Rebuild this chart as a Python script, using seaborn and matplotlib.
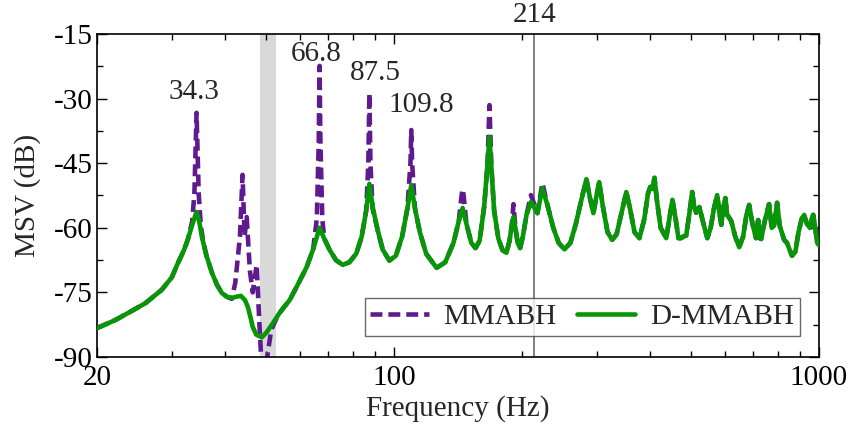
import numpy as np
import pandas as pd
import matplotlib
matplotlib.use("Agg")
import matplotlib.pyplot as plt
from matplotlib.ticker import FixedLocator, NullFormatter, MultipleLocator
import seaborn as sns

# D-MMABH curve (Hz, dB)
freq_d = [20, 22, 23.65, 26, 28.4, 30, 31.0, 32.0, 32.7, 33.5, 34.3, 34.8, 35.3, 36.2,
          37.3, 38.3, 39.3, 40.4, 41.5, 42.6, 43.6, 44.6, 45.3, 46.0, 46.5, 47.4, 48.3,
          48.9, 50.2, 51.9, 54.0, 56.8, 59.5, 62.3, 64.5, 66.8, 68.5, 70.6, 73.0, 75.7,
          78.5, 81.5, 83.9, 86.0, 87.5, 89.0, 91.5, 94.0, 97.5, 101, 104.5, 107.5, 109.8,
          112, 115, 119, 125.9, 132, 138, 142, 145, 148, 152, 155.5, 159, 163, 166, 167.7,
          169.5, 172, 176, 180, 183.9, 187, 189.5, 191, 193, 195.5, 198, 201, 205, 210,
          217.5, 223.4, 230, 237, 244, 251.8, 260, 268, 276, 283.6, 289, 294.5, 299, 304,
          310, 318, 326, 334, 343, 352, 360, 368, 378, 388, 396, 401, 406, 410, 416, 424,
          437, 446, 452, 460, 467, 474, 480, 487, 495, 503, 508, 514, 523, 533, 546, 556,
          566, 576, 582, 589, 596, 602, 608, 615, 622, 635, 649, 663, 675, 685, 697, 711,
          719, 725, 731, 745, 763, 774, 784, 797, 808, 828, 841, 852, 864, 880, 895, 910,
          923, 936, 953, 962, 969, 980, 990, 1000]
msv_d = [-83.3, -81.5, -79.8, -77.5, -74.4, -71.5, -68.2, -65.3, -62.8, -59.3, -56.3, -58.5,
         -62.1, -66.5, -70.5, -73.2, -75.1, -76.0, -76.3, -76.0, -75.8, -76.8, -78.4, -81.0,
         -83.0, -84.8, -85.2, -85.4, -84.2, -82.1, -79.5, -76.8, -73.0, -69.1, -65.0, -60.0,
         -62.5, -65.2, -67.5, -68.6, -68.0, -66.0, -62.1, -56.0, -49.8, -55.0, -60.5, -65.0,
         -67.6, -66.5, -62.0, -55.5, -50.1, -55.5, -61.0, -66.0, -69.3, -68.0, -63.5, -58.5,
         -55.4, -59.0, -63.5, -64.7, -63.0, -55.0, -45.0, -38.9, -46.0, -56.0, -62.5, -65.2,
         -65.8, -63.0, -59.0, -57.5, -60.0, -63.6, -64.7, -62.0, -57.0, -54.0, -56.6, -50.8,
         -55.0, -60.0, -63.5, -65.0, -63.5, -59.0, -53.5, -48.7, -53.0, -56.6, -53.0, -49.4,
         -55.0, -61.0, -62.8, -61.5, -56.5, -51.7, -56.0, -61.0, -62.4, -58.0, -52.0, -50.5,
         -51.0, -48.4, -54.0, -60.0, -62.4, -57.0, -53.5, -58.0, -62.4, -62.4, -62.0, -61.8,
         -57.0, -51.7, -54.8, -56.5, -55.2, -58.5, -62.4, -60.0, -55.5, -52.4, -56.0, -59.3,
         -55.0, -53.1, -57.0, -57.7, -58.5, -62.0, -64.5, -62.0, -57.0, -54.7, -59.0, -62.4,
         -58.2, -62.4, -62.6, -58.5, -54.5, -60.0, -59.5, -54.2, -59.5, -62.8, -63.5, -65.0,
         -66.5, -65.5, -61.0, -58.0, -57.0, -59.0, -60.0, -58.0, -57.0, -60.0, -63.5, -64.0]

# MMABH below 230 Hz (above it the two curves coincide)
freq_m_low = [20, 22, 23.65, 26, 28.4, 30, 31.0, 32.0, 32.7, 33.5, 33.9, 34.3, 34.7, 35.1,
              35.6, 36.2, 37.3, 38.3, 39.3, 40.4, 41.5, 42.3, 43.4, 44.0, 44.5, 45.0, 45.8,
              46.5, 47.5, 48.2, 48.7, 49.5, 50.3, 51.4, 53.2, 55.0, 56.8, 59.5, 62.3, 64.5,
              65.8, 66.5, 66.8, 67.1, 67.8, 68.5, 70.6, 73.0, 75.7, 78.5, 81.5, 83.9, 86.0,
              87.0, 87.5, 88.0, 89.0, 91.5, 94.0, 97.5, 101, 104.5, 107.5, 109.3, 109.8,
              110.3, 112, 115, 119, 125.9, 132, 138, 142, 144.2, 145, 145.8, 148, 152, 155.5,
              159, 163, 166, 167.7, 169.5, 172, 176, 180, 183.9, 187, 189.5, 191, 193, 195.5,
              198, 201, 205, 210, 217.5, 223.4, 230]
msv_m_low = [-83.3, -81.5, -79.8, -77.5, -74.4, -71.5, -68.2, -65.3, -62.8, -58.5, -52.0,
             -33.3, -52.0, -59.5, -63.5, -66.5, -70.5, -73.2, -75.1, -76.0, -76.5, -72.8,
             -62.0, -47.7, -62.0, -57.5, -70.0, -75.0, -68.6, -82.0, -90.5, -95.0, -90.0,
             -83.7, -80.5, -78.5, -76.8, -73.0, -69.1, -65.0, -58.0, -40.0, -22.4, -40.0,
             -58.0, -62.5, -65.2, -67.5, -68.6, -68.0, -66.0, -62.1, -56.0, -45.0, -28.7,
             -45.0, -55.5, -60.5, -65.0, -67.6, -66.5, -62.0, -55.5, -45.0, -37.3, -45.0,
             -55.5, -61.0, -66.0, -69.3, -68.0, -63.5, -58.5, -52.5, -51.0, -52.5, -59.0,
             -63.5, -64.7, -63.0, -55.0, -45.0, -31.5, -46.0, -56.0, -62.5, -65.2, -65.8,
             -63.0, -59.0, -54.5, -60.0, -63.6, -64.7, -62.0, -57.0, -52.4, -56.6, -49.6,
             -55.0]

peak_freqs = [34.3, 66.8, 87.5, 109.8]
peak_text_x = [33.8, 65.7, 90.2, 115.7]
peak_text_y = [-28.5, -19.6, -24.1, -31.5]
band = (48.4, 52.7)
marker_freq = 214

freq_m = freq_m_low + [f for f in freq_d if f > 230]
msv_m = msv_m_low + [v for f, v in zip(freq_d, msv_d) if f > 230]

df_m = pd.DataFrame({"f": freq_m, "msv": msv_m})
df_d = pd.DataFrame({"f": freq_d, "msv": msv_d})

sns.set_style("ticks")
plt.rcParams["font.family"] = ["Liberation Serif", "DejaVu Serif"]
plt.rcParams["axes.unicode_minus"] = False

purple = "#5f1b8d"
green = "#069606"
fs = 21

fig = plt.figure(figsize=(8.52, 4.30), dpi=100)
ax = fig.add_axes([97 / 852, 1 - 357 / 430, 722 / 852, 323 / 430])

ax.axvspan(band[0], band[1], color="#d9d9d9", zorder=0, lw=0)
ax.axvline(marker_freq, color="#777777", lw=1.3, zorder=1)

sns.lineplot(data=df_m, x="f", y="msv", ax=ax, color=purple, lw=3.3,
             linestyle="--", estimator=None, sort=False,
             label="MMABH", zorder=2)
sns.lineplot(data=df_d, x="f", y="msv", ax=ax, color=green, lw=3.3,
             estimator=None, sort=False, label="D-MMABH", zorder=3)
ax.lines[-2].set_dashes((2.6, 1.3))

ax.set_xscale("log")
ax.set_xlim(20, 1000)
ax.set_ylim(-90, -15)
ax.xaxis.set_major_locator(FixedLocator([20, 100, 1000]))
ax.set_xticklabels(["20", "100", "1000"])
ax.xaxis.set_minor_locator(FixedLocator([30, 40, 50, 60, 70, 80, 90,
                                         200, 300, 400, 500, 600, 700, 800, 900]))
ax.xaxis.set_minor_formatter(NullFormatter())
ax.yaxis.set_major_locator(MultipleLocator(15))
ax.yaxis.set_minor_locator(MultipleLocator(7.5))

ax.tick_params(which="both", direction="in", top=True, right=True, labelsize=fs,
               width=1.0, colors="black")
ax.tick_params(which="major", length=7)
ax.tick_params(which="minor", length=4.5)
ax.tick_params(axis="x", pad=6)
ax.tick_params(axis="y", pad=3)
for s in ax.spines.values():
    s.set_linewidth(1.2)
    s.set_color("black")

ax.set_xlabel("Frequency (Hz)", fontsize=fs, labelpad=3)
ax.set_ylabel("MSV (dB)", fontsize=fs, labelpad=9)

for lab, tx, ty in zip(peak_freqs, peak_text_x, peak_text_y):
    ax.text(tx, ty, f"{lab}", ha="center", va="center", fontsize=fs)
ax.text(marker_freq, -10.6, f"{marker_freq}", ha="center", va="center",
        fontsize=fs, clip_on=False)

leg = ax.legend(loc="lower right", bbox_to_anchor=(0.973, 0.065), ncol=2,
                fontsize=fs, frameon=True, fancybox=False, handlelength=2.0,
                columnspacing=0.7, handletextpad=0.5, borderpad=0.2,
                borderaxespad=0)
leg.get_frame().set_edgecolor("#444444")
leg.get_frame().set_linewidth(1.0)

fig.savefig("out.png", dpi=100)
